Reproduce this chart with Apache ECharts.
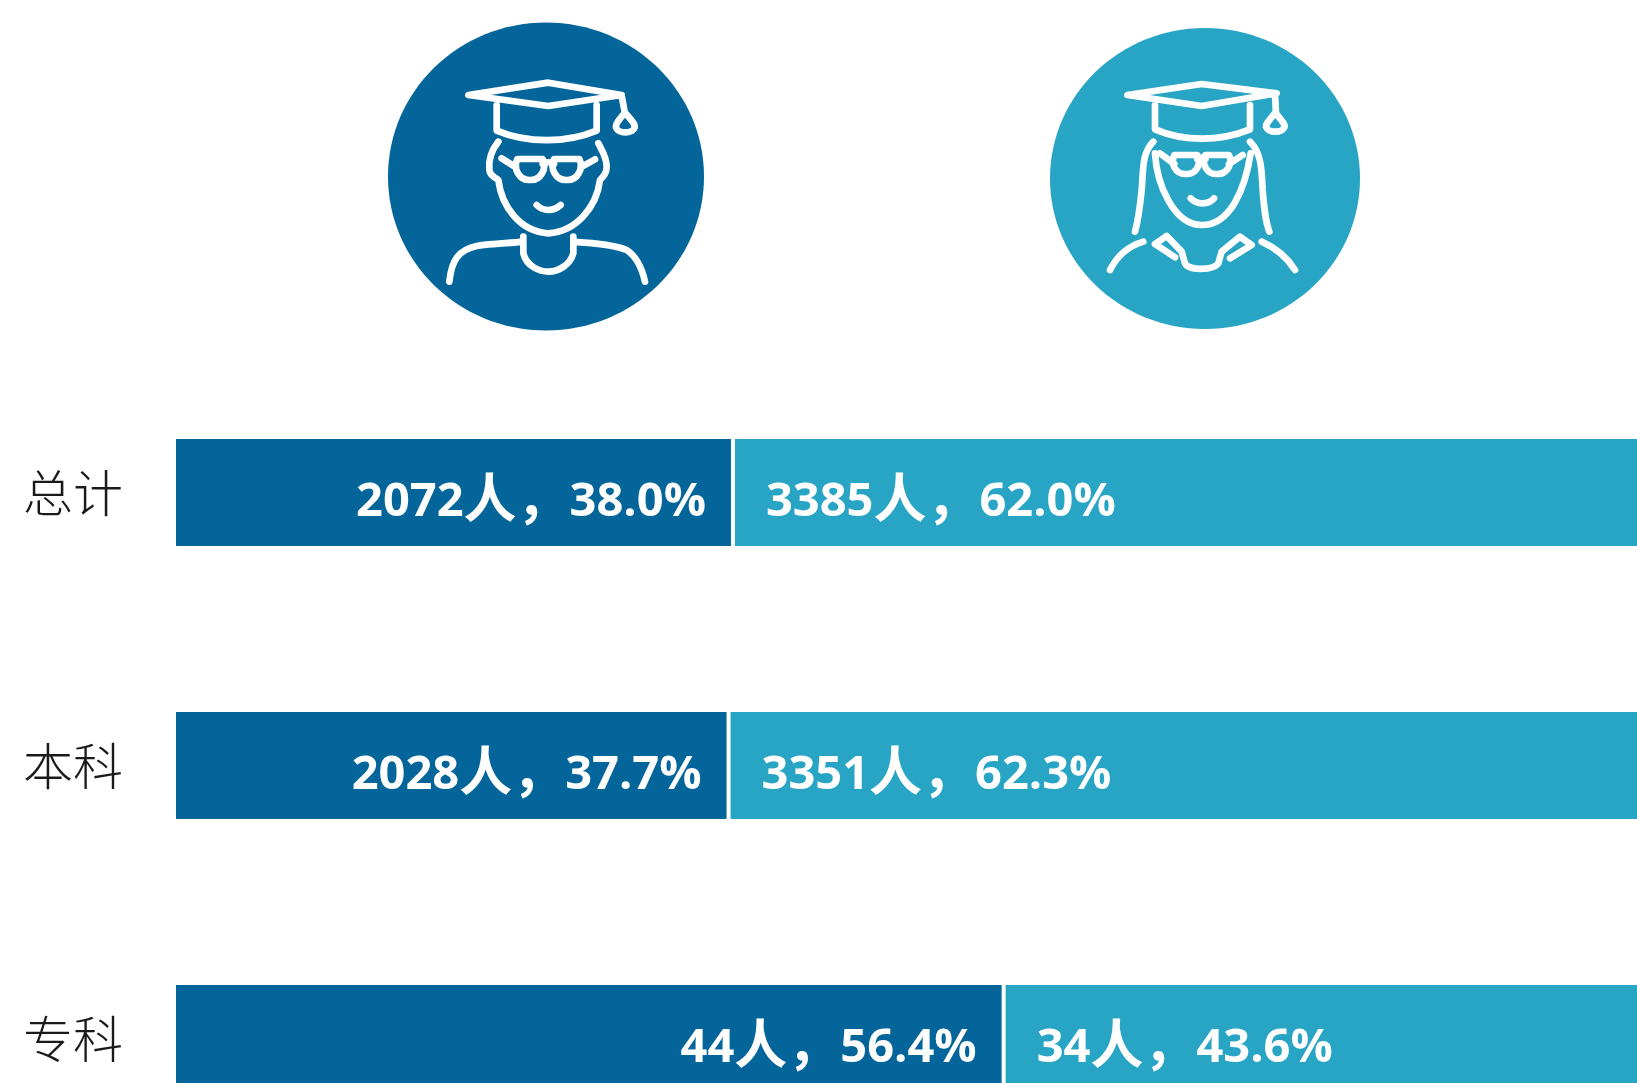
<!DOCTYPE html>
<html><head><meta charset="utf-8">
<style>html,body{margin:0;padding:0;background:#fff;overflow:hidden;width:1637px;height:1083px}#c{width:1700px;height:1300px}</style>
<script src="https://cdn.jsdelivr.net/npm/echarts@6/dist/echarts.min.js"></script>
</head><body><div id="c"></div>
<script>
const categories = ['总计', '本科', '专科'];
const maleCounts = [2072, 2028, 44];
const femaleCounts = [3385, 3351, 34];
const malePercents = [38.0, 37.7, 56.4];
const femalePercents = [62.0, 62.3, 43.6];
const DARK = '#03659A', LIGHT = '#28A4C5';
const LABEL_FONT = '"Open Sans","Noto Sans CJK SC",sans-serif';

const malePaths = [
 'M295 255 L535 218 L755 255 L535 288 Z',
 'M755 258 L765 310',
 'M765 308 C746 330 736 342 738 352 C744 372 788 372 794 352 C796 342 784 330 765 308 Z',
 'M380 285 L380 362 C470 400 590 400 680 362 L680 285',
 'M385 395 C365 420 355 450 358 480 C360 500 375 500 385 510 C395 590 450 665 535 670 C620 665 680 590 690 510 C700 500 710 490 710 470 C710 440 695 420 685 400',
 'M442 447 L518 447 C532 475 512 512 480 510 C448 512 428 475 442 447 Z',
 'M552 447 L628 447 C642 475 622 512 590 510 C558 512 538 475 552 447 Z',
 'M518 462 C528 455 542 455 552 462',
 'M395 445 L438 472', 'M675 448 L632 472',
 'M500 585 C520 605 550 605 572 585',
 'M460 680 L460 730 C470 770 510 785 535 785 C565 785 600 765 610 730 L610 680',
 'M238 815 C245 750 265 720 320 708 C370 700 420 700 460 695',
 'M610 695 C660 700 720 700 770 720 C800 740 815 770 825 815'
];
const femalePaths = [
 'M262 255 L485 222 L710 250 L485 288 Z',
 'M705 255 L708 310',
 'M706 308 C688 330 678 340 678 350 C684 370 728 370 734 350 C734 340 724 330 706 308 Z',
 'M345 285 L345 358 C430 395 540 395 630 358 L630 285',
 'M340 395 C305 430 310 480 305 540 C300 590 295 630 285 665',
 'M630 395 C665 430 665 480 668 540 C672 590 675 630 688 665',
 'M345 430 C350 520 400 645 485 645 C570 645 615 540 632 430',
 'M403 435 L472 435 C486 462 468 494 438 492 C408 494 390 462 403 435 Z',
 'M496 435 L567 435 C580 462 560 494 530 492 C502 494 483 462 496 435 Z',
 'M472 448 C480 442 488 442 496 448',
 'M360 430 L403 462', 'M608 435 L567 462',
 'M452 565 C470 585 505 585 522 565',
 'M345 702 L380 678 L425 725 L435 760 C445 782 520 782 535 760 L545 725 L600 680 L635 705 L570 745',
 'M345 702 L405 742',
 'M210 780 C230 740 260 710 310 695',
 'M665 695 C710 715 740 740 765 780'
];
echarts.graphic.registerShape('maleIcon', echarts.graphic.extendPath(malePaths.join(' ')));
echarts.graphic.registerShape('femaleIcon', echarts.graphic.extendPath(femalePaths.join(' ')));
function iconEl(type, ox, oy, cx, cy, rx, ry, color) {
  return {type:'group', children:[
    {type:'ellipse', shape:{cx, cy, rx, ry}, style:{fill:color}},
    {type, x:ox, y:oy, scaleX:1/3, scaleY:1/3,
     style:{fill:'none', stroke:'#fff', lineWidth:20, lineCap:'round', lineJoin:'round'}}
  ]};
}
const chart = echarts.init(document.getElementById('c'), null, {renderer:'canvas'});
const textStyle = size => ({color:'#fff', fontFamily:LABEL_FONT, fontWeight:'bold', fontSize:size});
const seriesOf = (name, vals, counts, color, pos, dist) => ({
  name, type:'bar', stack:'total', barWidth:111, data:vals,
  itemStyle:{color, borderColor:'#fff', borderWidth:2},
  label:{show:true, position:pos, distance:dist, offset:[0,10], color:'#fff',
    rich:{d:textStyle(47), c:textStyle(53)},
    formatter:p => '{d|' + counts[p.dataIndex] + '}{c|人，}{d|' + vals[p.dataIndex].toFixed(1) + '%}'},
  silent:true
});
chart.setOption({
  animation:false, backgroundColor:'#fff',
  grid:{left:174, top:356, width:1471, height:819, containLabel:false},
  xAxis:{type:'value', min:0, max:100, show:false},
  yAxis:{type:'category', inverse:true, data:categories,
    axisLine:{show:false}, axisTick:{show:false},
    axisLabel:{margin:51, fontSize:50, color:'#1a1a1a', fontFamily:'"Noto Sans CJK SC",sans-serif', fontWeight:300}},
  series:[
    seriesOf('男', malePercents, maleCounts, DARK, 'insideRight', 27),
    seriesOf('女', femalePercents, femaleCounts, LIGHT, 'insideLeft', 33)
  ],
  graphic:[
    iconEl('maleIcon', 370, 10, 546, 176.5, 158, 154, DARK),
    iconEl('femaleIcon', 1040, 10, 1205, 178.5, 155, 150.5, LIGHT)
  ]
});
</script></body></html>
